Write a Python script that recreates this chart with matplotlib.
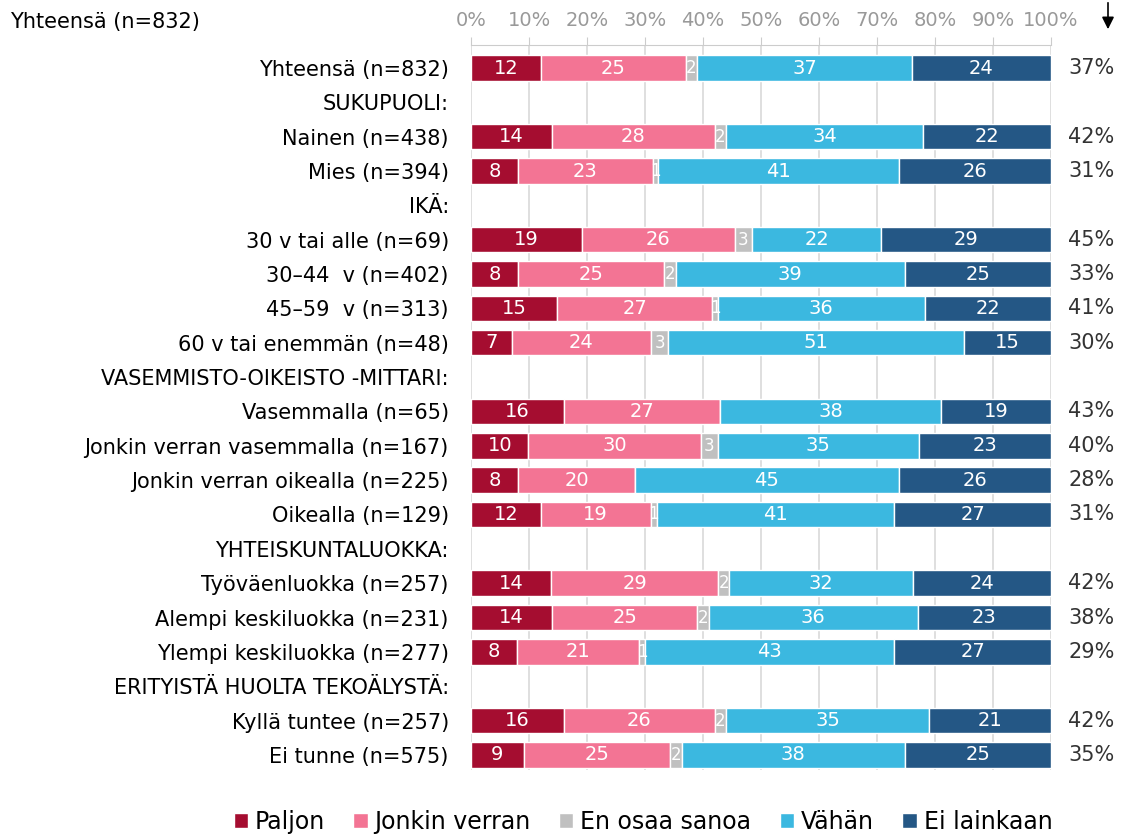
import numpy as np
import matplotlib.pyplot as plt

# rows top to bottom; headers have no bars
row_labels = [
    'Yhteensä (n=832)', 'SUKUPUOLI:', 'Nainen (n=438)', 'Mies (n=394)',
    'IKÄ:', '30 v tai alle (n=69)', '30\u201344  v (n=402)', '45\u201359  v (n=313)',
    '60 v tai enemmän (n=48)', 'VASEMMISTO-OIKEISTO -MITTARI:', 'Vasemmalla (n=65)',
    'Jonkin verran vasemmalla (n=167)', 'Jonkin verran oikealla (n=225)',
    'Oikealla (n=129)', 'YHTEISKUNTALUOKKA:', 'Työväenluokka (n=257)',
    'Alempi keskiluokka (n=231)', 'Ylempi keskiluokka (n=277)',
    'ERITYISTÄ HUOLTA TEKOÄLYSTÄ:', 'Kyllä tuntee (n=257)', 'Ei tunne (n=575)',
]
is_header = [False, True, False, False, True, False, False, False, False, True,
             False, False, False, False, True, False, False, False, True, False, False]

series = ['Paljon', 'Jonkin verran', 'En osaa sanoa', 'Vähän', 'Ei lainkaan']
paljon = [12, 14, 8, 19, 8, 15, 7, 16, 10, 8, 12, 14, 14, 8, 16, 9]
jonkin = [25, 28, 23, 26, 25, 27, 24, 27, 30, 20, 19, 29, 25, 21, 26, 25]
eos = [2, 2, 1, 3, 2, 1, 3, 0, 3, 0, 1, 2, 2, 1, 2, 2]
vahan = [37, 34, 41, 22, 39, 36, 51, 38, 35, 45, 41, 32, 36, 43, 35, 38]
ei = [24, 22, 26, 29, 25, 22, 15, 19, 23, 26, 27, 24, 23, 27, 21, 25]
totals = ['37%', '42%', '31%', '45%', '33%', '41%', '30%', '43%', '40%', '28%',
          '31%', '42%', '38%', '29%', '42%', '35%']
colors = ['#A50D30', '#F37494', '#C0C0C0', '#3BB8E0', '#245785']

vals = np.array([paljon, jonkin, eos, vahan, ei], dtype=float)
norm = vals / vals.sum(axis=0) * 100

y_all = np.arange(len(row_labels))
y_data = [y for y, h in zip(y_all, is_header) if not h]

fig = plt.figure(figsize=(11.29, 8.35), dpi=100)
ax = fig.add_axes([471 / 1129, 1 - 770 / 835, 580 / 1129, 725 / 835])

fs = 15
left = np.zeros(len(y_data))
for k in range(5):
    ax.barh(y_data, norm[k], left=left, height=0.74, color=colors[k],
            edgecolor='white', linewidth=1, label=series[k], zorder=3)
    for j, y in enumerate(y_data):
        v = vals[k, j]
        if v >= 1:
            ax.text(left[j] + norm[k, j] / 2, y, f'{int(v)}', ha='center', va='center',
                    color='white', fontsize=14 if v >= 4 else 12, zorder=4)
    left += norm[k]

for y, t in zip(y_data, totals):
    ax.text(107, y, t, ha='center', va='center', fontsize=fs, color='#333333',
            clip_on=False)

ax.set_xlim(0, 100)
ax.set_ylim(len(row_labels) - 1 + 0.44, -0.67)
ax.set_yticks(y_all)
ax.set_yticklabels(row_labels, fontsize=fs)
ax.tick_params(axis='y', length=0, pad=16)
ax.xaxis.tick_top()
ax.set_xticks(np.arange(0, 101, 10))
ax.set_xticklabels([f'{v}%' for v in range(0, 101, 10)], fontsize=14, color='#999999')
ax.tick_params(axis='x', length=6, color='#cccccc', pad=5)
ax.grid(axis='x', color='#d9d9d9', linewidth=1.2, zorder=0)
for s in ['left', 'right', 'bottom']:
    ax.spines[s].set_visible(False)
ax.spines['top'].set_color('#cccccc')

fig.text(10 / 1129, 1 - 22 / 835, 'Yhteensä (n=832)', fontsize=15, va='center')
fig.add_artist(plt.Annotation('', xy=(1108 / 1129, 1 - 32 / 835), xytext=(1108 / 1129, 1.0),
                              xycoords='figure fraction',
                              arrowprops=dict(arrowstyle='-|>', color='black', lw=1.2,
                                              mutation_scale=18)))

fig.legend(loc='center', bbox_to_anchor=(643 / 1129, 1 - 822 / 835), ncol=5, frameon=False,
           fontsize=17, handlelength=0.6, handleheight=0.6, handletextpad=0.3,
           columnspacing=1.2)

fig.savefig('out.png', dpi=100)
